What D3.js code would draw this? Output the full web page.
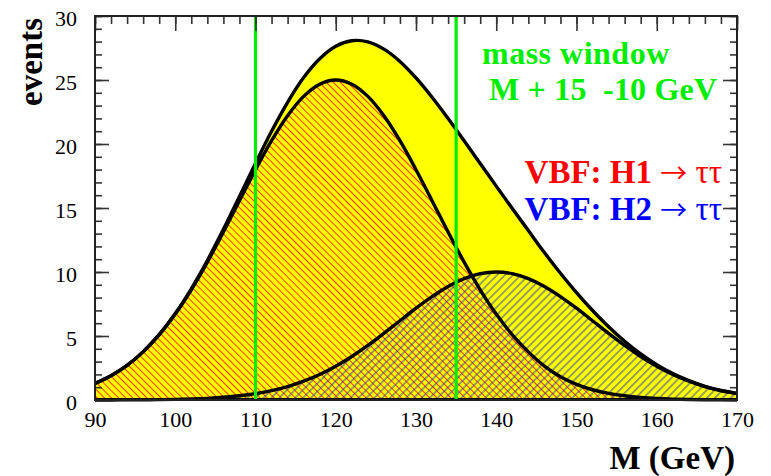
<!DOCTYPE html>
<html>
<head>
<meta charset="utf-8">
<script src="https://cdn.jsdelivr.net/npm/d3@7"></script>
<style>
  html, body { margin: 0; padding: 0; background: #fff; }
  svg { display: block; }
  text { font-family: "Liberation Serif", "DejaVu Serif", serif; }
</style>
</head>
<body>
<svg id="chart" width="771" height="476"></svg>
<script>
// Invariant mass (GeV), sampled every 2 GeV
const mass = [90, 92, 94, 96, 98, 100, 102, 104, 106, 108, 110, 112, 114, 116, 118, 120,
  122, 124, 126, 128, 130, 132, 134, 136, 138, 140, 142, 144, 146, 148, 150,
  152, 154, 156, 158, 160, 162, 164, 166, 168, 170];

// VBF: H1 -> tautau, expected events
const h1Events = [1.30, 1.90, 2.70, 3.76, 5.09, 6.71, 8.61, 10.77, 13.12, 15.57, 17.99, 20.26, 22.21, 23.72, 24.67, 25.00,
  24.67, 23.72, 22.21, 20.26, 17.99, 15.57, 13.12, 10.77, 8.61, 6.71, 5.09, 3.76, 2.65, 1.82, 1.22,
  0.80, 0.52, 0.33, 0.20, 0.12, 0.07, 0.04, 0.02, 0.01, 0.01];

// VBF: H2 -> tautau, expected events
const h2Events = [0.00, 0.00, 0.01, 0.02, 0.03, 0.05, 0.08, 0.13, 0.21, 0.33, 0.50, 0.73, 1.05, 1.47, 1.99, 2.64,
  3.40, 4.26, 5.20, 6.19, 7.17, 8.08, 8.87, 9.48, 9.87, 10.00, 9.87, 9.48, 8.87, 8.08, 7.17,
  6.19, 5.20, 4.26, 3.40, 2.64, 1.99, 1.47, 1.05, 0.73, 0.50];

// Mass window edges (GeV)
const windowEdges = [110, 135];

// Axis tick values
const xMajorTicks = [90, 100, 110, 120, 130, 140, 150, 160, 170];
const xMinorTicks = d3.range(90, 171, 2);
const yMajorTicks = [0, 5, 10, 15, 20, 25, 30];
const yMinorTicks = d3.range(0, 31, 1);

// Summed signal per mass point
const points = mass.map((m, i) => ({ m, h1: h1Events[i], h2: h2Events[i], total: h1Events[i] + h2Events[i] }));

const svg = d3.select("#chart");
const frame = { left: 95, right: 737, top: 16, bottom: 400 };

const x = d3.scaleLinear().domain([90, 170]).range([frame.left, frame.right]);
const y = d3.scaleLinear().domain([0, 30]).range([frame.bottom, frame.top]);

// Hatch patterns
const defs = svg.append("defs");
function hatch(id, spacing, angle, color, width) {
  const p = defs.append("pattern")
    .attr("id", id)
    .attr("patternUnits", "userSpaceOnUse")
    .attr("width", spacing).attr("height", spacing)
    .attr("patternTransform", `rotate(${angle})`);
  p.append("line")
    .attr("x1", spacing / 2).attr("y1", -1)
    .attr("x2", spacing / 2).attr("y2", spacing + 1)
    .attr("stroke", color).attr("stroke-width", width);
}
hatch("hatchH1", 5, -45, "#ff2000", 0.9);
hatch("hatchH2", 5.6, 45, "#2030c0", 0.9);

const curve = d3.curveCatmullRom.alpha(0.5);
const areaOf = key => d3.area().x(d => x(d.m)).y0(y(0)).y1(d => y(d[key])).curve(curve);
const lineOf = key => d3.line().x(d => x(d.m)).y(d => y(d[key])).curve(curve);

// Filled areas
svg.append("path").datum(points).attr("d", areaOf("total")).attr("fill", "#ffff00");
svg.append("path").datum(points).attr("d", areaOf("h1")).attr("fill", "url(#hatchH1)");
svg.append("path").datum(points).attr("d", areaOf("h2")).attr("fill", "url(#hatchH2)");

// Outlines
["total", "h1", "h2"].forEach(k => {
  svg.append("path").datum(points).attr("d", lineOf(k))
    .attr("fill", "none").attr("stroke", "#000").attr("stroke-width", 3.4)
    .attr("stroke-linejoin", "round");
});
svg.append("line").attr("x1", frame.left).attr("x2", frame.right)
  .attr("y1", frame.bottom - 0.5).attr("y2", frame.bottom - 0.5)
  .attr("stroke", "#000").attr("stroke-width", 3);

// Mass window lines
svg.selectAll(".window").data(windowEdges).enter().append("line")
  .attr("class", "window")
  .attr("x1", d => x(d)).attr("x2", d => x(d))
  .attr("y1", frame.top).attr("y2", frame.bottom)
  .attr("stroke", "#00ee00").attr("stroke-width", 3.2);

// Frame and ticks
const tickColor = "#333";
function styleAxis(g) {
  g.select(".domain").remove();
  g.selectAll(".tick line").attr("stroke", tickColor).attr("stroke-width", 1.6);
}
// top
svg.append("g").attr("transform", `translate(0,${frame.top})`)
  .call(d3.axisBottom(x).tickValues(xMinorTicks).tickSize(8).tickFormat("")).call(styleAxis);
svg.append("g").attr("transform", `translate(0,${frame.top})`)
  .call(d3.axisBottom(x).tickValues(xMajorTicks).tickSize(15).tickFormat("")).call(styleAxis);
// left
svg.append("g").attr("transform", `translate(${frame.left},0)`)
  .call(d3.axisRight(y).tickValues(yMinorTicks).tickSize(7).tickFormat("")).call(styleAxis);
svg.append("g").attr("transform", `translate(${frame.left},0)`)
  .call(d3.axisRight(y).tickValues(yMajorTicks).tickSize(14).tickFormat("")).call(styleAxis);
// right
svg.append("g").attr("transform", `translate(${frame.right},0)`)
  .call(d3.axisLeft(y).tickValues(yMinorTicks).tickSize(7).tickFormat("")).call(styleAxis);
svg.append("g").attr("transform", `translate(${frame.right},0)`)
  .call(d3.axisLeft(y).tickValues(yMajorTicks).tickSize(14).tickFormat("")).call(styleAxis);

svg.append("rect").attr("x", frame.left).attr("y", frame.top)
  .attr("width", frame.right - frame.left).attr("height", frame.bottom - frame.top)
  .attr("fill", "none").attr("stroke", "#222").attr("stroke-width", 2);

// Tick labels
const xLabels = svg.append("g").attr("transform", `translate(0,${frame.bottom})`)
  .call(d3.axisBottom(x).tickValues(xMajorTicks).tickSize(0).tickPadding(11).tickFormat(d3.format("d")));
xLabels.select(".domain").remove();
xLabels.selectAll("text").attr("font-size", 22).attr("fill", "#000")
  .style("font-family", '"Liberation Serif", serif');

const yLabels = svg.append("g").attr("transform", `translate(${frame.left},0)`)
  .call(d3.axisLeft(y).tickValues(yMajorTicks).tickSize(0).tickPadding(18).tickFormat(d3.format("d")));
yLabels.select(".domain").remove();
yLabels.selectAll("text").attr("font-size", 22).attr("fill", "#000").attr("dy", "0.42em")
  .style("font-family", '"Liberation Serif", serif');

// Axis titles
svg.append("text").attr("transform", "translate(42,18) rotate(-90)")
  .attr("text-anchor", "end").attr("font-size", 33).attr("font-weight", "bold").text("events");
svg.append("text").attr("x", 735).attr("y", 469)
  .attr("text-anchor", "end").attr("font-size", 33).attr("font-weight", "bold").text("M (GeV)");

// Mass window annotation
svg.append("text").attr("x", 482).attr("y", 64).attr("font-size", 32).attr("font-weight", "bold")
  .attr("letter-spacing", 0.5).attr("fill", "#00ee00").text("mass window");
svg.append("text").attr("x", 489).attr("y", 99.5).attr("font-size", 32).attr("font-weight", "bold")
  .attr("letter-spacing", 0.2).attr("fill", "#00ee00").style("white-space", "pre").text("M + 15  -10 GeV");

// Channel legend
function channel(yPos, color, label) {
  const t = svg.append("text").attr("x", 722).attr("y", yPos).attr("text-anchor", "end")
    .attr("font-size", 33).attr("fill", color).style("white-space", "pre");
  t.append("tspan").attr("font-weight", "bold").text(label + " ");
  t.append("tspan").attr("font-weight", "normal")
    .style("font-family", '"Noto Sans CJK JP", "DejaVu Sans", sans-serif').attr("font-size", 27).text("\u2192");
  t.append("tspan").attr("font-weight", "normal").text(" \u03c4\u03c4");
}
channel(183, "#ff0000", "VBF: H1");
channel(220, "#0000ff", "VBF: H2");
</script>
</body>
</html>
